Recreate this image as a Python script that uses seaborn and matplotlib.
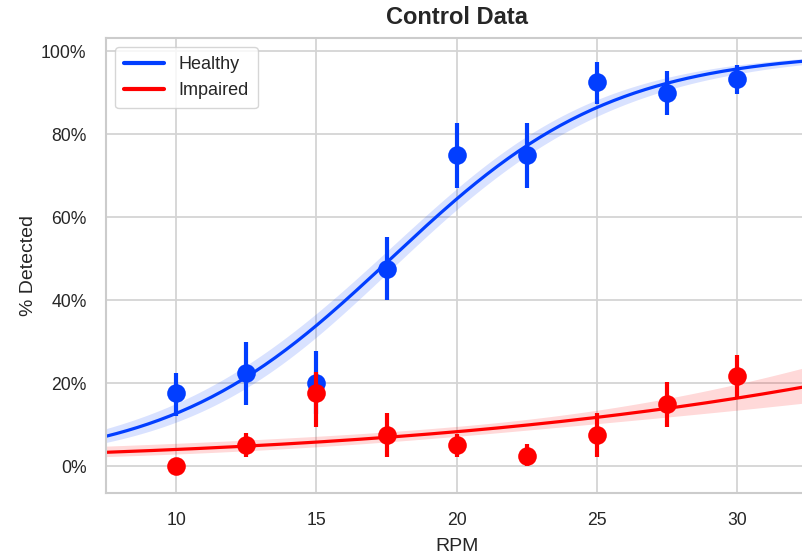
import numpy as np
import pandas as pd
import matplotlib
matplotlib.use("Agg")
import matplotlib.pyplot as plt
from matplotlib.ticker import PercentFormatter
from matplotlib.lines import Line2D
import seaborn as sns

# ---- data ----
rpm = [10, 12.5, 15, 17.5, 20, 22.5, 25, 27.5, 30]
healthy_mean = [0.175, 0.225, 0.200, 0.475, 0.750, 0.750, 0.925, 0.900, 0.933]
healthy_lo = [0.121, 0.147, 0.125, 0.400, 0.671, 0.671, 0.873, 0.847, 0.897]
healthy_hi = [0.224, 0.300, 0.278, 0.553, 0.828, 0.828, 0.975, 0.953, 0.967]
impaired_mean = [0.000, 0.050, 0.175, 0.075, 0.050, 0.025, 0.075, 0.150, 0.217]
impaired_lo = [0.000, 0.021, 0.095, 0.022, 0.022, 0.000, 0.022, 0.095, 0.164]
impaired_hi = [0.000, 0.079, 0.227, 0.129, 0.078, 0.053, 0.127, 0.203, 0.268]
trials_per_point = 250
groups = ["Healthy", "Impaired"]
colors = {"Healthy": "#023eff", "Impaired": "#ff0000"}

sns.set_theme(style="whitegrid", context="notebook")
plt.rcParams["font.family"] = ["Liberation Sans", "DejaVu Sans"]


def logistic_fit(x, p, n):
    x = np.asarray(x, float)
    p = np.asarray(p, float)
    X = np.column_stack([np.ones_like(x), x])
    beta = np.zeros(2)
    for _ in range(100):
        eta = X @ beta
        mu = 1 / (1 + np.exp(-eta))
        w = n * mu * (1 - mu)
        z = eta + (p - mu) / (mu * (1 - mu))
        XtW = X.T * w
        new = np.linalg.solve(XtW @ X, XtW @ z)
        if np.max(np.abs(new - beta)) < 1e-10:
            beta = new
            break
        beta = new
    eta = X @ beta
    mu = 1 / (1 + np.exp(-eta))
    w = n * mu * (1 - mu)
    cov = np.linalg.inv((X.T * w) @ X)
    return beta, cov


fig = plt.figure(figsize=(8.02, 5.57), dpi=100)
ax = fig.add_axes([106 / 802, 64 / 557, 701.6 / 802, 455 / 557])
xlim = (7.5, 32.5)
xg = np.linspace(xlim[0], xlim[1], 200)

data = {
    "Healthy": (healthy_mean, healthy_lo, healthy_hi),
    "Impaired": (impaired_mean, impaired_lo, impaired_hi),
}
handles = []
for g in groups:
    m, lo, hi = data[g]
    c = colors[g]
    df = pd.DataFrame({"RPM": rpm, "p": m})
    ax.vlines(rpm, lo, hi, color=c, lw=3, zorder=3)
    sns.scatterplot(data=df, x="RPM", y="p", color=c, s=180, linewidth=0,
                    ax=ax, zorder=3)
    beta, cov = logistic_fit(rpm, m, trials_per_point)
    Xg = np.column_stack([np.ones_like(xg), xg])
    eta = Xg @ beta
    se = np.sqrt(np.einsum("ij,jk,ik->i", Xg, cov, Xg))
    fit = 1 / (1 + np.exp(-eta))
    lo_b = 1 / (1 + np.exp(-(eta - 1.96 * se)))
    hi_b = 1 / (1 + np.exp(-(eta + 1.96 * se)))
    ax.fill_between(xg, lo_b, hi_b, color=c, alpha=0.15, linewidth=0, zorder=2)
    sns.lineplot(x=xg, y=fit, color=c, lw=2.3, ax=ax, zorder=2)
    handles.append(Line2D([], [], color=c, lw=3, label=g))

ax.set_xlim(*xlim)
ax.set_ylim(-0.065, 1.032)
ax.set_xticks([10, 15, 20, 25, 30])
ax.set_yticks([0, 0.2, 0.4, 0.6, 0.8, 1.0])
ax.yaxis.set_major_formatter(PercentFormatter(1.0, decimals=0))
ax.tick_params(axis="both", labelsize=12.7, colors="#262626")
ax.tick_params(axis="y", pad=8)
ax.tick_params(axis="x", pad=8)
ax.set_xlabel("RPM", fontsize=14, labelpad=6)
ax.set_ylabel("% Detected", fontsize=14, labelpad=3)
ax.set_title("Control Data", fontsize=17, fontweight="bold", pad=10)
ax.legend(handles=handles, loc="upper left", fontsize=13,
          handlelength=2.2, borderpad=0.5, frameon=True)
for s in ax.spines.values():
    s.set_color("#cccccc")
    s.set_linewidth(1.5)
ax.grid(color="#d4d4d4", linewidth=1.3)

fig.savefig("out.png", dpi=100)
